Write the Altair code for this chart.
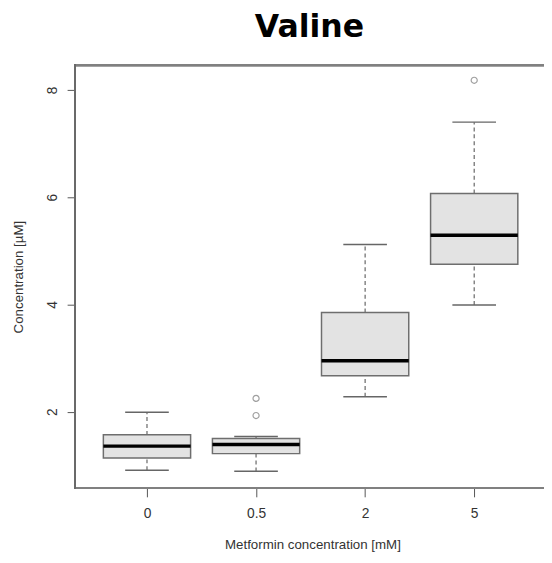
import altair as alt
import pandas as pd

# ---- data ----
categories = ["0", "0.5", "2", "5"]
lower_whisker = [0.91, 0.89, 2.28, 3.99]
q1 = [1.14, 1.22, 2.67, 4.75]
median = [1.36, 1.39, 2.95, 5.29]
q3 = [1.57, 1.50, 3.85, 6.07]
upper_whisker = [1.99, 1.54, 5.12, 7.40]
outlier_cat = ["0.5", "0.5", "5"]
outlier_val = [2.25, 1.93, 8.18]
y_ticks = [2, 4, 6, 8]

W, H = 476, 429
X_DOMAIN = [0.34, 4.64]
Y_DOMAIN = [0.58, 8.46]

stats = pd.DataFrame({
    "cat": categories,
    "pos": list(range(1, len(categories) + 1)),
    "lo": lower_whisker,
    "q1": q1,
    "med": median,
    "q3": q3,
    "hi": upper_whisker,
})
outliers = pd.DataFrame({
    "cat": outlier_cat,
    "val": outlier_val,
})
outliers["pos"] = outliers["cat"].map({c: i + 1 for i, c in enumerate(categories)})

label_expr = "[" + ",".join("'" + c + "'" for c in categories) + "][datum.value - 1]"

xscale = alt.Scale(domain=X_DOMAIN, nice=False, zero=False)
yscale = alt.Scale(domain=Y_DOMAIN, nice=False, zero=False)

x_axis = alt.Axis(
    values=[1, 2, 3, 4], labelExpr=label_expr, title="Metformin concentration [mM]",
    grid=False, domain=False, tickSize=9, tickColor="#555555", tickWidth=1,
    labelFont="Liberation Sans", labelFontSize=14, labelColor="#333333",
    labelPadding=10, labelFlush=False,
    titleFont="Liberation Sans", titleFontSize=13.5, titleFontWeight="normal",
    titleColor="#333333", titleX=241, titleY=57, titleBaseline="middle",
    titleAlign="center",
)
y_axis = alt.Axis(
    values=y_ticks, format="d", title="Concentration [µM]",
    grid=False, domain=False, tickSize=8, tickColor="#555555", tickWidth=1,
    labelFont="Liberation Sans", labelFontSize=14, labelColor="#333333",
    labelAngle=270, labelAlign="center", labelBaseline="alphabetic", labelPadding=11,
    titleFont="Liberation Sans", titleFontSize=13.5, titleFontWeight="normal",
    titleColor="#333333", titleAngle=270, titleX=-57, titleY=H / 2,
    titleBaseline="middle", titleAlign="center",
)

base = alt.Chart(stats)

upper_dash = base.mark_rule(color="#666666", strokeWidth=1.2, strokeDash=[4, 3]).encode(
    x=alt.X("pos:Q", scale=xscale, axis=x_axis),
    y=alt.Y("q3:Q", scale=yscale, axis=y_axis),
    y2="hi:Q",
)
lower_dash = base.mark_rule(color="#666666", strokeWidth=1.2, strokeDash=[4, 3]).encode(
    x=alt.X("pos:Q", scale=xscale),
    y=alt.Y("lo:Q", scale=yscale),
    y2="q1:Q",
)
upper_staple = base.transform_calculate(
    sx="datum.pos - 0.2", sx2="datum.pos + 0.2"
).mark_rule(color="#666666", strokeWidth=1.5).encode(
    x=alt.X("sx:Q", scale=xscale), x2="sx2:Q",
    y=alt.Y("hi:Q", scale=yscale),
)
lower_staple = base.transform_calculate(
    sx="datum.pos - 0.2", sx2="datum.pos + 0.2"
).mark_rule(color="#666666", strokeWidth=1.5).encode(
    x=alt.X("sx:Q", scale=xscale), x2="sx2:Q",
    y=alt.Y("lo:Q", scale=yscale),
)
box = base.transform_calculate(
    bx="datum.pos - 0.4", bx2="datum.pos + 0.4"
).mark_rect(fill="#e3e3e3", stroke="#6e6e6e", strokeWidth=1.5).encode(
    x=alt.X("bx:Q", scale=xscale), x2="bx2:Q",
    y=alt.Y("q1:Q", scale=yscale), y2="q3:Q",
)
med = base.transform_calculate(
    bx="datum.pos - 0.4", bx2="datum.pos + 0.4"
).mark_rule(color="#000000", strokeWidth=3.5).encode(
    x=alt.X("bx:Q", scale=xscale), x2="bx2:Q",
    y=alt.Y("med:Q", scale=yscale),
)
pts = alt.Chart(outliers).mark_point(
    shape="circle", filled=False, size=38, stroke="#777777", strokeWidth=1.2
).encode(
    x=alt.X("pos:Q", scale=xscale),
    y=alt.Y("val:Q", scale=yscale),
)

frame_top = alt.Chart(stats).mark_rule(color="#808080", strokeWidth=2).encode(
    x=alt.value(0), x2=alt.value(W + 10), y=alt.value(0)
)
frame_bottom = alt.Chart(stats).mark_rule(color="#808080", strokeWidth=2).encode(
    x=alt.value(0), x2=alt.value(W + 10), y=alt.value(H)
)
frame_left = alt.Chart(stats).mark_rule(color="#6a6a6a", strokeWidth=1.8).encode(
    x=alt.value(0), y=alt.value(-1), y2=alt.value(H + 1)
)

chart = alt.layer(
    upper_dash, lower_dash, upper_staple, lower_staple, box, med, pts,
    frame_top, frame_bottom, frame_left,
).properties(
    width=W, height=H,
    title=alt.TitleParams(
        "Valine", font="DejaVu Sans", fontSize=32, fontWeight="bold",
        color="#000000", anchor="middle", offset=20,
    ),
    autosize="none",
    padding={"left": 68, "top": 54, "right": 0, "bottom": 70},
).configure_view(stroke=None).configure(background="white")

chart.save("out.html", embed_options={"renderer": "svg", "actions": False})
